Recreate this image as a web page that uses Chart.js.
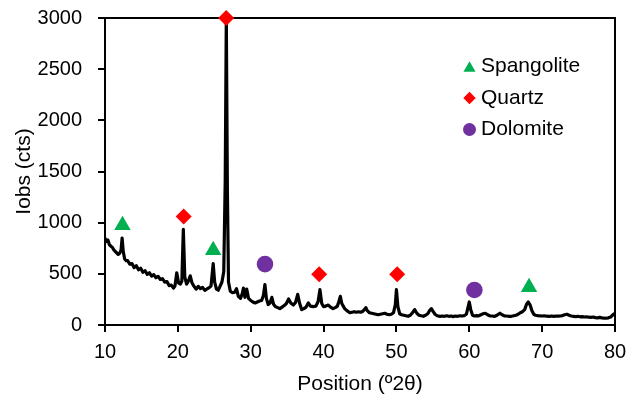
<!DOCTYPE html>
<html><head><meta charset="utf-8">
<script src="https://cdn.jsdelivr.net/npm/chart.js@4/dist/chart.umd.min.js"></script>
<style>html,body{margin:0;padding:0;background:#fff}#wrap{width:639px;height:397px}</style>
</head><body><div id="wrap"><canvas id="c" width="639" height="397"></canvas></div>
<script>
// XRD pattern: position (°2θ) and intensity (cts)
const angle2Theta = [
10.0,10.2,10.4,10.6,10.8,11.0,11.2,11.4,11.6,11.8,12.0,12.2,12.35,12.5,12.7,12.9,13.1,13.4,13.7,14.0,
14.3,14.6,14.9,15.2,15.5,15.8,16.1,16.4,16.7,17.0,17.3,17.6,17.9,18.2,18.5,18.8,19.1,19.4,19.6,19.85,
20.1,20.35,20.55,20.75,20.95,21.2,21.45,21.7,21.95,22.2,22.5,22.8,23.1,23.4,23.7,24.0,24.3,24.55,24.85,25.05,
25.3,25.55,25.8,26.05,26.3,26.5,26.65,26.8,26.95,27.2,27.5,27.8,28.05,28.3,28.6,28.85,29.0,29.2,29.45,29.7,
30.0,30.3,30.6,30.9,31.2,31.5,31.75,31.95,32.15,32.4,32.65,32.9,33.15,33.4,33.7,34.0,34.3,34.6,34.9,35.2,
35.5,35.85,36.15,36.45,36.7,37.0,37.3,37.6,37.9,38.2,38.6,38.95,39.25,39.5,39.75,40.0,40.3,40.65,40.95,41.3,
41.6,41.9,42.1,42.3,42.5,42.9,43.2,43.6,43.9,44.2,44.5,44.8,45.1,45.4,45.6,45.8,46.0,46.3,46.6,46.9,
47.2,47.5,47.8,48.1,48.4,48.7,49.0,49.3,49.6,49.85,50.0,50.2,50.45,50.7,51.0,51.3,51.6,51.9,52.2,52.5,
52.8,53.1,53.4,53.7,54.0,54.3,54.55,54.8,55.05,55.3,55.6,56.0,56.3,56.6,56.9,57.2,57.5,57.8,58.1,58.4,
58.7,59.0,59.3,59.6,59.85,60.0,60.2,60.45,60.7,61.0,61.3,61.6,61.9,62.2,62.5,62.8,63.1,63.5,63.8,64.2,
64.5,64.8,65.1,65.5,65.8,66.1,66.4,66.7,67.0,67.3,67.6,67.85,68.1,68.35,68.6,68.85,69.1,69.4,69.7,70.0,
70.3,70.6,71.0,71.3,71.6,71.9,72.2,72.5,72.8,73.1,73.4,73.7,74.0,74.3,74.6,74.9,75.2,75.5,75.8,76.1,
76.4,76.7,77.0,77.3,77.6,77.9,78.2,78.5,78.8,79.1,79.4,79.7,80.0
];
const intensityCts = [
850,815,830,785,770,760,735,720,705,690,700,730,850,720,645,630,630,595,600,560,
580,540,555,515,530,495,510,478,492,462,475,445,452,418,425,385,390,360,380,510,
410,400,430,935,470,400,430,480,410,380,350,378,355,368,338,352,365,380,600,420,
350,340,380,420,520,1400,3000,1300,420,330,315,320,355,280,260,310,360,270,350,260,
240,225,215,225,235,240,290,395,260,200,215,270,200,180,170,160,175,190,210,255,
215,195,220,300,215,150,160,175,215,185,180,185,230,345,210,180,185,195,175,160,
170,185,230,280,210,160,140,120,125,130,125,130,125,135,150,170,140,120,115,110,
105,100,105,110,115,105,100,105,120,200,345,180,110,100,95,90,85,95,120,150,
115,95,90,85,95,110,140,160,130,105,90,85,88,85,90,85,88,82,88,85,
90,88,92,105,180,225,150,95,88,92,90,100,110,115,100,90,88,85,95,115,
100,90,88,85,85,90,95,105,120,130,150,200,225,195,140,105,95,92,90,88,
90,86,85,88,85,88,86,88,92,100,105,95,88,85,82,85,80,82,78,80,
76,75,78,72,70,74,70,68,66,70,78,100,115
];
// Phase markers
const spangoliteAngle = [12.4, 24.85, 68.2];
const spangoliteLevel = [975, 730, 370];
const quartzAngle = [20.8, 26.63, 39.4, 50.1];
const quartzLevel = [1060, 3000, 495, 495];
const dolomiteAngle = [31.96, 60.7];
const dolomiteLevel = [595, 342];
// Axis ticks
const xTickValues = [10, 20, 30, 40, 50, 60, 70, 80];
const yTickValues = [0, 500, 1000, 1500, 2000, 2500, 3000];

const toPts = (xs, ys) => xs.map((x, i) => ({x: x, y: ys[i]}));
const FONT = "'Liberation Sans', Arial, sans-serif";

const frameBox = {
  id: 'frameBox',
  beforeDatasetsDraw(chart) {
    const {ctx, chartArea: a} = chart;
    ctx.save();
    ctx.strokeStyle = '#000';
    ctx.lineWidth = 2;
    ctx.beginPath();
    ctx.moveTo(a.left, a.top);
    ctx.lineTo(a.right, a.top);
    ctx.lineTo(a.right, a.bottom);
    ctx.stroke();
    ctx.restore();
  }
};

const insideLegend = {
  id: 'insideLegend',
  afterDraw(chart) {
    const {ctx, chartArea: a} = chart;
    const items = chart.data.datasets.filter(d => d.legendRadius);
    const mx = a.right - 145.5, tx = a.right - 134, y0 = a.top + 48.5, gap = 31.5;
    ctx.save();
    items.forEach((d, i) => {
      const y = y0 + i * gap;
      const my = y + (d.pointStyle === 'triangle' ? d.legendRadius / 4 : 0);
      ctx.fillStyle = d.pointBackgroundColor;
      ctx.strokeStyle = d.pointBackgroundColor;
      Chart.helpers.drawPoint(ctx, {pointStyle: d.pointStyle, rotation: 0, radius: d.legendRadius, borderWidth: 0}, mx, my);
      ctx.fillStyle = '#000';
      ctx.font = '21px ' + FONT;
      ctx.textBaseline = 'middle';
      ctx.textAlign = 'left';
      ctx.fillText(d.label, tx, y);
    });
    ctx.restore();
  }
};

new Chart(document.getElementById('c'), {
  type: 'scatter',
  data: {
    datasets: [
      {label: 'Spangolite', data: toPts(spangoliteAngle, spangoliteLevel), pointStyle: 'triangle',
       pointRadius: 9.5, legendRadius: 7, pointBackgroundColor: '#00B050', pointBorderWidth: 0, showLine: false, clip: false, order: 1},
      {label: 'Quartz', data: toPts(quartzAngle, quartzLevel), pointStyle: 'rectRot',
       pointRadius: 8, legendRadius: 6.2, pointBackgroundColor: '#FF0000', pointBorderWidth: 0, showLine: false, clip: false, order: 1},
      {label: 'Dolomite', data: toPts(dolomiteAngle, dolomiteLevel), pointStyle: 'circle',
       pointRadius: 8.3, legendRadius: 6.5, pointBackgroundColor: '#7030A0', pointBorderWidth: 0, showLine: false, clip: false, order: 1},
      {label: 'XRD', data: toPts(angle2Theta, intensityCts), showLine: true, borderColor: '#000',
       borderWidth: 3.2, pointRadius: 0, tension: 0, order: 10, borderJoinStyle: 'round'}
    ]
  },
  options: {
    responsive: false,
    animation: false,
    devicePixelRatio: 1,
    layout: {padding: {top: 18, right: 24, left: 0, bottom: 0}},
    plugins: {legend: {display: false}, tooltip: {enabled: false}},
    scales: {
      x: {
        type: 'linear',
        min: xTickValues[0], max: xTickValues[xTickValues.length - 1],
        afterBuildTicks: s => { s.ticks = xTickValues.map(v => ({value: v})); },
        afterFit: s => { s.height = 72; s.paddingLeft = 0; s.paddingRight = 0; },
        grid: {display: true, drawOnChartArea: false, drawTicks: true, tickLength: 7, color: '#000', lineWidth: 2},
        border: {display: true, color: '#000', width: 2},
        ticks: {color: '#000', font: {family: FONT, size: 20}, padding: 8, maxRotation: 0, callback: v => String(v)},
        title: {display: true, text: 'Position (º2θ)', color: '#000', font: {family: FONT, size: 21}, padding: {top: 0, bottom: 0}}
      },
      y: {
        type: 'linear',
        min: yTickValues[0], max: yTickValues[yTickValues.length - 1],
        afterBuildTicks: s => { s.ticks = yTickValues.map(v => ({value: v})); },
        afterFit: s => { s.width = 105; s.paddingTop = 0; s.paddingBottom = 0; },
        grid: {display: true, drawOnChartArea: false, drawTicks: true, tickLength: 7, color: '#000', lineWidth: 2},
        border: {display: true, color: '#000', width: 2},
        ticks: {color: '#000', font: {family: FONT, size: 20}, padding: 16, callback: v => String(v)},
        title: {display: true, text: 'Iobs (cts)', color: '#000', font: {family: FONT, size: 21}, padding: {top: 12, bottom: 0}}
      }
    }
  },
  plugins: [frameBox, insideLegend]
});
</script>
</body></html>
